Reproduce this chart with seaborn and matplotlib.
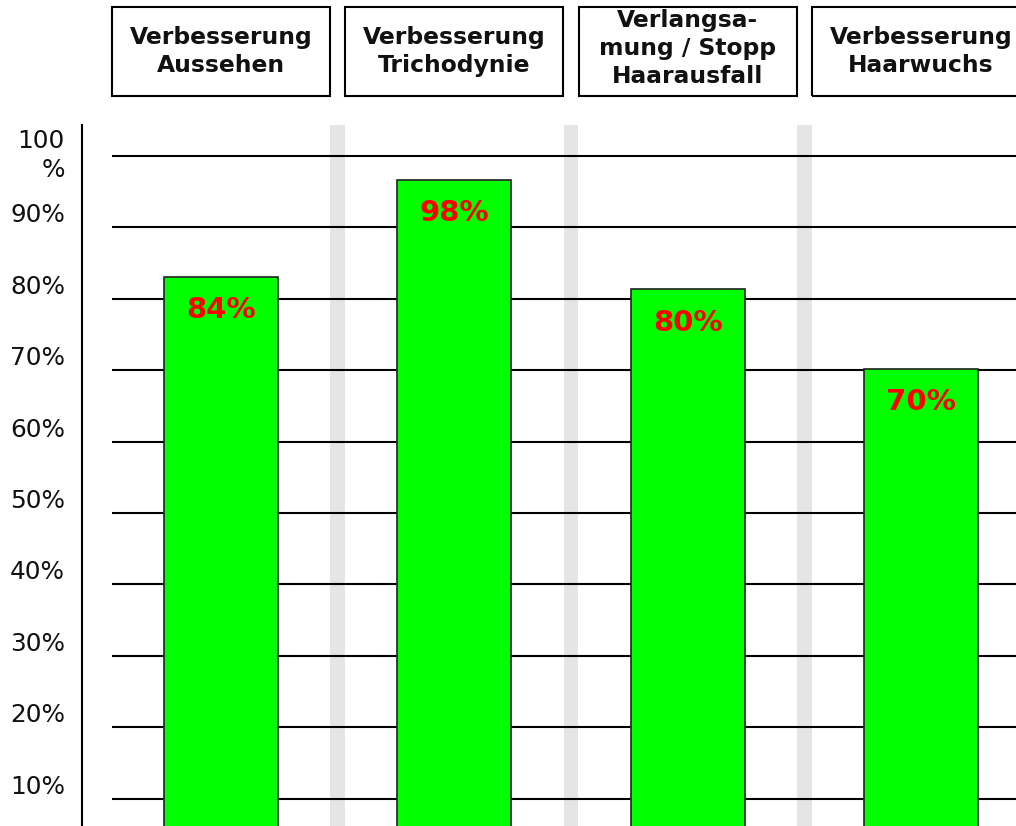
import matplotlib
matplotlib.use('Agg')
import matplotlib.pyplot as plt
from matplotlib.patches import Rectangle
import seaborn as sns
import pandas as pd

# %%
categories = ['Verbesserung\nAussehen', 'Verbesserung\nTrichodynie',
              'Verlangsa-\nmung / Stopp\nHaarausfall',
              'Verbesserung\nHaarwuchs']
bar_height = [83.0, 96.6, 81.3, 70.2]   # as drawn
shown_pct = [84, 98, 80, 70]            # as labelled
tick_vals = [10, 20, 30, 40, 50, 60, 70, 80, 90, 100]
tick_labels = ['10%', '20%', '30%', '40%', '50%', '60%', '70%', '80%',
               '90%', '100\n%']

# %%
sns.set_theme(style='white')
plt.rcParams['font.family'] = ['DejaVu Sans']

df = pd.DataFrame({'cat': categories, 'val': bar_height})

fig = plt.figure(figsize=(10.16, 8.26), dpi=100)
ax = fig.add_axes([112 / 1016, 0, 904 / 1016, 701 / 826])

sns.barplot(data=df, x='cat', y='val', color='#00ff00', saturation=1,
            width=0.489, edgecolor='#222222', linewidth=1.2, ax=ax,
            zorder=3)

ax.bar_label(ax.containers[0], labels=['{}%'.format(v) for v in shown_pct],
             padding=-34, color='#ff0000', fontsize=21, fontweight='bold')

# grey separators between columns
for i in range(len(categories) - 1):
    ax.axvspan(i + 0.5 - 0.032, i + 0.5 + 0.032, color='#e5e5e5', lw=0,
               zorder=0.2)

ax.set_axisbelow(True)
ax.set_yticks(tick_vals)
ax.yaxis.grid(True, color='black', lw=1.5)
ax.xaxis.grid(False)

ax.set_xlim(-0.467, 3.407)
ax.set_ylim(6.2, 104.3)
ax.set_xticks([])
ax.set_xlabel('')
ax.set_ylabel('')
ax.tick_params(axis='y', length=0, labelleft=False)

# y labels sit just above their gridline, the 100 one wraps
ytrans = ax.get_yaxis_transform()
for v, lab in zip(tick_vals, tick_labels):
    ax.text(-0.052, v, lab, transform=ytrans, ha='right',
            va='center' if '\n' in lab else 'bottom',
            fontsize=17.8, color='#111111', linespacing=1.25, clip_on=False)

for s in ['top', 'right', 'bottom']:
    ax.spines[s].set_visible(False)
ax.spines['left'].set_position(('outward', 21.6))
ax.spines['left'].set_linewidth(1.5)
ax.spines['left'].set_color('black')

# header boxes
trans = ax.get_xaxis_transform()
for i, cat in enumerate(categories):
    ax.add_patch(Rectangle((i - 0.467, 1.0414), 0.934, 0.1269,
                           transform=trans, fill=False, ec='black', lw=1.5,
                           clip_on=False))
    ax.text(i, 1.105 if cat.count('\n') == 1 else 1.109, cat,
            transform=trans, ha='center', va='center', fontsize=16.8,
            fontweight='bold', linespacing=1.27, color='#111111',
            clip_on=False)

fig.savefig('out.png', dpi=100)
